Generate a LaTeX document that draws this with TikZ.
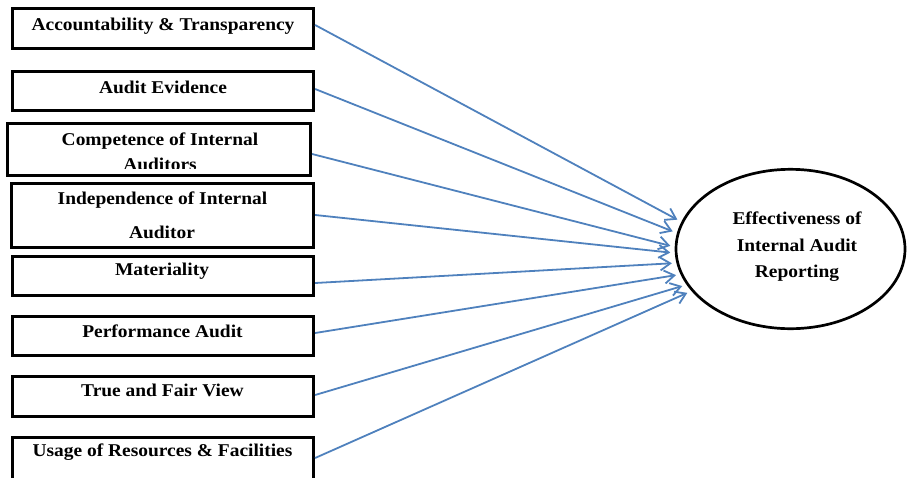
\documentclass[tikz,border=0pt]{standalone}
\usepackage{fontspec}
\usetikzlibrary{arrows.meta,shapes.geometric}
\newfontfamily\lbf[FakeStretch=1.08]{Liberation Serif Bold}
\definecolor{arrowblue}{RGB}{79,129,189}
\tikzset{
  box/.style={draw=black, line width=3.2pt, rectangle, inner sep=0pt, fill=none},
  lbl/.style={anchor=base, inner sep=0pt, font=\lbf\fontsize{18}{20}\selectfont, text=black},
  conn/.style={draw=arrowblue, line width=1.8pt, shorten >=4.5pt,
    -{Straight Barb[length=10pt,width=13pt,line width=1.8pt]}},
  target/.style={draw=black, line width=2.7pt, ellipse, inner sep=0pt}
}
\begin{document}
\begin{tikzpicture}[x=1pt,y=-1pt]
\useasboundingbox (0,0) rectangle (907,477);
\begin{scope}
\clip (0,0) rectangle (907,477);
% boxes
\node[box, minimum width=301pt, minimum height=40pt] (b1) at (163,28.5) {};
\node[box, minimum width=301pt, minimum height=39pt] (b2) at (163,91) {};
\node[box, minimum width=303pt, minimum height=52pt] (b3) at (159,149.5) {};
\node[box, minimum width=302pt, minimum height=64pt] (b4) at (162.5,215.5) {};
\node[box, minimum width=301pt, minimum height=39pt] (b5) at (163,276) {};
\node[box, minimum width=301pt, minimum height=39pt] (b6) at (163,336) {};
\node[box, minimum width=301pt, minimum height=40pt] (b7) at (163,396.5) {};
\node[box, minimum width=301pt, minimum height=60pt] (b8) at (163,467.5) {};
% ellipse
\node[target, minimum width=229pt, minimum height=159.4pt] (e) at (790.5,249) {};
% texts
\node[lbl] (t1) at (163,30) {Accountability \& Transparency};
\node[lbl] (t2) at (163,93) {Audit Evidence};
\node[lbl] (t3a) at (160,145) {Competence of Internal};
\begin{scope}
\clip (8,124) rectangle (310,168.5);
\node[lbl] (t3b) at (160,170) {Auditors};
\end{scope}
\node[lbl] (t4a) at (162.5,204) {Independence of Internal};
\node[lbl] (t4b) at (162,238) {Auditor};
\node[lbl] (t5) at (162,275) {Materiality};
\node[lbl] (t6) at (162.5,337) {Performance Audit};
\node[lbl] (t7) at (162.5,396) {True and Fair View};
\node[lbl] (t8) at (162.5,456) {Usage of Resources \& Facilities};
\node[lbl] (e1) at (797,224) {Effectiveness of};
\node[lbl] (e2) at (797,251) {Internal Audit};
\node[lbl] (e3) at (797,277) {Reporting};
% connectors
\draw[conn] ([yshift=3.5pt]b1.east) -- (e.166.1);
\draw[conn] ([yshift=2pt]b2.east) -- (e.172.4);
\draw[conn] ([yshift=-4.5pt]b3.east) -- (e.179.7);
\draw[conn] ([yshift=0.5pt]b4.east) -- (e.182.6);
\draw[conn] ([yshift=-7pt]b5.east) -- (e.187.8);
\draw[conn] ([yshift=3pt]b6.east) -- (e.193.4);
\draw[conn] ([yshift=1.5pt]b7.east) -- (e.199.4);
\draw[conn] ([yshift=9.5pt]b8.east) -- (e.203.8);
\end{scope}
\end{tikzpicture}
\end{document}
